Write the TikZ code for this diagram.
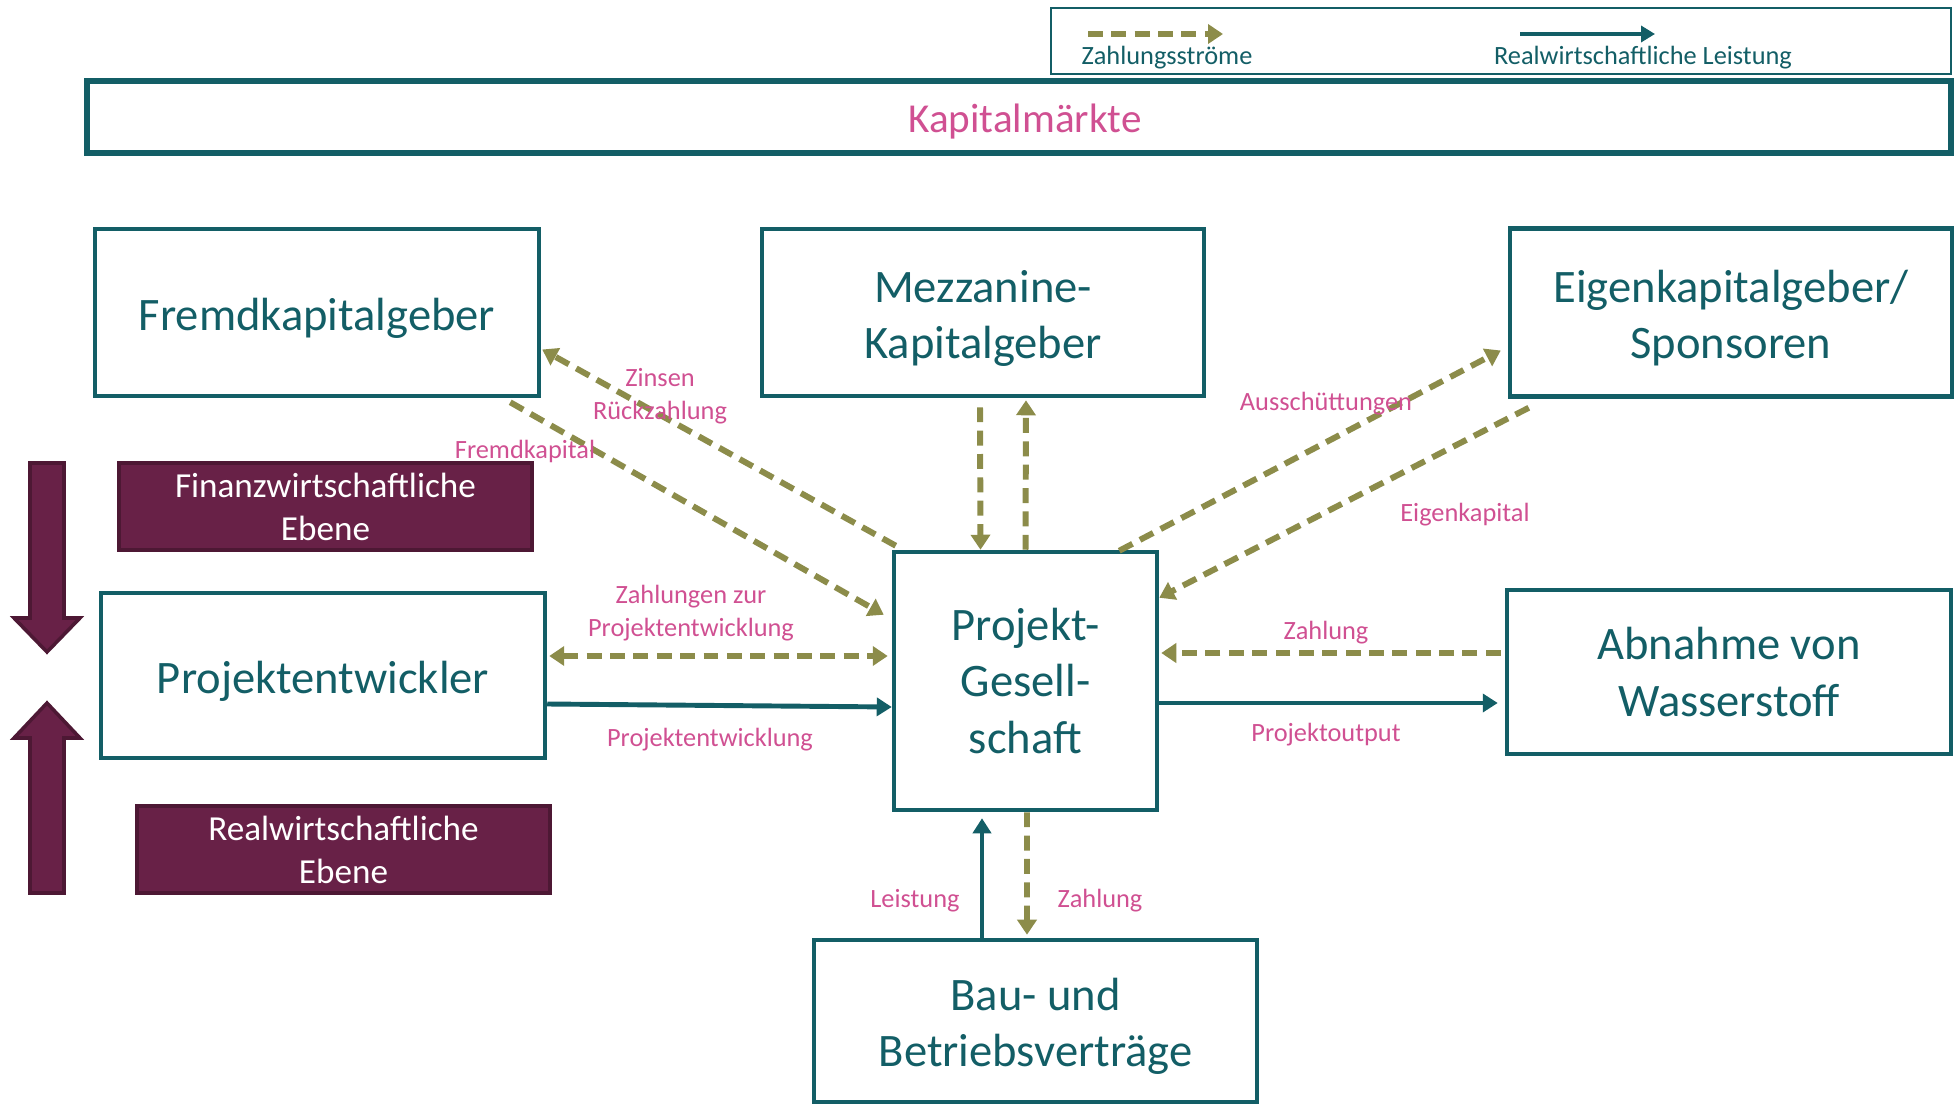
\documentclass[tikz,border=0pt]{standalone}
\usepackage{fontspec}
\setmainfont{Carlito}
\usetikzlibrary{arrows.meta, positioning, calc}
\definecolor{petrol}{RGB}{19,94,102}
\definecolor{oliv}{RGB}{140,140,74}
\definecolor{rosa}{RGB}{208,80,146}
\definecolor{weinrot}{RGB}{104,33,71}
\definecolor{weinrotdunkel}{RGB}{77,24,52}
\newcommand{\hoch}{\rule{0pt}{0.93em}}

\begin{document}
\begin{tikzpicture}[x=0.02cm, y=-0.02cm,
    box/.style={draw=petrol, line width=2.6pt, text=petrol, align=center, inner sep=0pt, font=\fontsize{26.5}{32}\selectfont, execute at begin node={\hoch}},
    ebene/.style={draw=weinrotdunkel, line width=2pt, fill=weinrot, text=white, align=center, inner sep=0pt, minimum width=8.26cm, minimum height=1.74cm, font=\fontsize{20}{24.5}\selectfont},
    lbl/.style={text=rosa, align=center, inner sep=0pt, font=\fontsize{15}{18.7}\selectfont},
    leg/.style={text=petrol, inner sep=0pt, font=\fontsize{15}{18}\selectfont},
    pay/.style={draw=oliv, line width=3.4pt, dash pattern=on 8.5pt off 4.8pt, -{Triangle[length=0.3cm, width=0.38cm]}},
    real/.style={draw=petrol, line width=2.8pt, -{Triangle[length=0.3cm, width=0.36cm]}}]
    \useasboundingbox (0,0) rectangle (1955,1105);

    \node[draw=petrol, line width=1.1pt, minimum width=18cm, minimum height=1.32cm] (legende) at (1501,41) {};
    \coordinate (zs1) at (1088,34);
    \coordinate (zs2) at (1223,34);
    \coordinate (rl1) at (1520,34);
    \coordinate (rl2) at (1655,34);
    \draw[pay] (zs1) -- (zs2);
    \draw[real, line width=2.6pt, -{Triangle[length=0.28cm, width=0.32cm]}] (rl1) -- (rl2);
    \node[leg] (zstext) at (1167,58) {Zahlungsströme};
    \node[leg] (rltext) at (1643,58) {Realwirtschaftliche Leistung};

    \node[box, line width=3.4pt, minimum width=37.28cm, minimum height=1.44cm, text=rosa, font=\fontsize{23.4}{28}\selectfont] (markt) at (1019,117) {\hspace*{0.24cm}Kapitalmärkte};

    \node[box, minimum width=8.88cm, minimum height=3.34cm] (fremd) at (317,312.5) {Fremdkapitalgeber};
    \node[box, minimum width=8.84cm, minimum height=3.34cm] (mezz) at (983,312.5) {\hoch Mezzanine-\\Kapitalgeber};
    \node[box, minimum width=8.84cm, minimum height=3.36cm] (eigen) at (1731,312.5) {\hoch Eigenkapitalgeber/\\Sponsoren};
    \node[box, minimum width=8.88cm, minimum height=3.3cm] (pe) at (323,675.5) {Projektentwickler};
    \node[box, minimum width=5.26cm, minimum height=5.16cm] (pg) at (1025.5,681) {Projekt-\\Gesell-\\schaft};
    \node[box, minimum width=8.88cm, minimum height=3.28cm] (abn) at (1729,672) {Abnahme von\\Wasserstoff};
    \node[box, minimum width=8.86cm, minimum height=3.24cm] (bau) at (1035.5,1021) {\hoch Bau- und\\Betriebsverträge};

    \node[ebene] (finanz) at (325.5,506.5) {Finanzwirtschaftliche\\Ebene};
    \node[ebene] (realeb) at (343.5,849.5) {Realwirtschaftliche\\Ebene};

    \draw[fill=weinrot, draw=weinrotdunkel, line width=2pt] (30,463) -- (64,463) -- (64,618) -- (80,618) -- (47,652) -- (14,618) -- (30,618) -- cycle;
    \draw[fill=weinrot, draw=weinrotdunkel, line width=2pt] (30,893) -- (64,893) -- (64,738) -- (80,738) -- (47,703) -- (14,738) -- (30,738) -- cycle;

    \draw[pay] ($(fremd.south east)+(-31,4)$) -- ($(pg.north west)+(-8,65)$);
    \draw[pay] ($(pg.north west)+(4,-4)$) -- ($(fremd.east)+(1,37)$);
    \draw[pay] ($(mezz.south)+(-3,9)$) -- ($(pg.north)+(-45,0)$);
    \draw[pay] (pg.north) -- ($(mezz.south)+(43,2)$);
    \draw[pay] ($(pg.north east)+(-40,1)$) -- ($(eigen.west)+(-7,38)$);
    \draw[pay] ($(eigen.south west)+(21,9)$) -- ($(pg.north east)+(0,48)$);
    \draw[pay, {Triangle[length=0.3cm, width=0.38cm]}-{Triangle[length=0.3cm, width=0.38cm]}] ($(pe.east)+(2,-19.5)$) -- ($(pg.west)+(-4,-25)$);
    \draw[real] ($(pe.east)+(0,28.5)$) -- ($(pg.west)+(0,26)$);
    \draw[pay] ($(abn.west)+(-4,-19)$) -- ($(pg.east)+(2,-28)$);
    \draw[real] ($(pg.east)+(0,22)$) -- ($(abn.west)+(-7,31)$);
    \draw[real] ($(bau.north)+(-53.5,0)$) -- ($(pg.south)+(-43.5,6)$);
    \draw[pay] ($(pg.south)+(1.5,0)$) -- ($(bau.north)+(-8.5,-3)$);

    \node[lbl] (zinsen) at (660,396) {Zinsen\\Rückzahlung};
    \node[lbl] (fk) at (525,451) {Fremdkapital};
    \node[lbl] (zzp) at (691,613) {Zahlungen zur\\Projektentwicklung};
    \node[lbl] (pent) at (710,740) {Projektentwicklung};
    \node[lbl] (aus) at (1326,404) {Ausschüttungen};
    \node[lbl] (ek) at (1465,515) {Eigenkapital};
    \node[lbl] (zabn) at (1326,633) {Zahlung};
    \node[lbl] (pout) at (1326,735) {Projektoutput};
    \node[lbl] (leist) at (915,901) {Leistung};
    \node[lbl] (zbau) at (1100,901) {Zahlung};
\end{tikzpicture}
\end{document}
